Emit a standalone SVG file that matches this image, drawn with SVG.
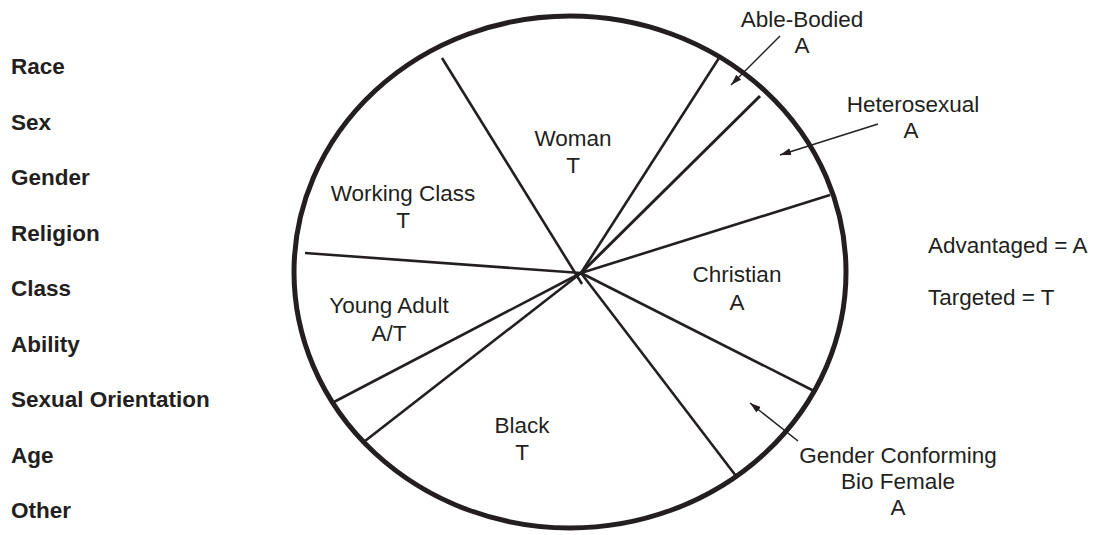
<svg xmlns="http://www.w3.org/2000/svg" width="1099" height="535" viewBox="0 0 1099 535">
<defs>
<style>
.t{font-family:"Liberation Sans",Arial,sans-serif;font-size:22.5px;fill:#231f20;text-anchor:middle}
.l{font-family:"Liberation Sans",Arial,sans-serif;font-size:22.5px;font-weight:bold;fill:#231f20}
.k{font-family:"Liberation Sans",Arial,sans-serif;font-size:22.5px;fill:#231f20}
.div{stroke:#231f20;stroke-width:2.6;fill:none}
.arr{stroke:#231f20;stroke-width:1.5;fill:none;marker-end:url(#ah)}
</style>
<marker id="ah" markerUnits="userSpaceOnUse" markerWidth="12" markerHeight="8" refX="11" refY="4" orient="auto">
<path d="M0,0.5 L11,4 L0,7.5 Z" fill="#231f20"/>
</marker>
</defs>
<rect width="1099" height="535" fill="#fff"/>
<g id="legend-categories">
<text class="l" x="11" y="74">Race</text>
<text class="l" x="11" y="129.5">Sex</text>
<text class="l" x="11" y="185">Gender</text>
<text class="l" x="11" y="240.5">Religion</text>
<text class="l" x="11" y="296">Class</text>
<text class="l" x="11" y="351.5">Ability</text>
<text class="l" x="11" y="407">Sexual Orientation</text>
<text class="l" x="11" y="462.5">Age</text>
<text class="l" x="11" y="518">Other</text>
</g>
<g id="key">
<text class="k" x="928" y="253">Advantaged = A</text>
<text class="k" x="928" y="305">Targeted = T</text>
</g>
<g id="circle">
<ellipse cx="570" cy="272" rx="276" ry="256" fill="none" stroke="#231f20" stroke-width="5"/>
</g>
<g id="connectors">
<line class="div" x1="442" y1="58" x2="582" y2="284"/>
<line class="div" x1="581" y1="273" x2="719" y2="58"/>
<line class="div" x1="581" y1="273" x2="760" y2="96" style="stroke-width:3"/>
<line class="div" x1="581" y1="273" x2="830" y2="195"/>
<line class="div" x1="581" y1="273" x2="816" y2="392"/>
<line class="div" x1="581" y1="273" x2="736" y2="476"/>
<line class="div" x1="581" y1="273" x2="365" y2="441"/>
<line class="div" x1="581" y1="273" x2="332" y2="403"/>
<line class="div" x1="581" y1="273" x2="305" y2="253"/>
<line class="arr" x1="780" y1="36" x2="731" y2="85"/>
<line class="arr" x1="878" y1="124" x2="780" y2="155"/>
<line class="arr" x1="798" y1="441" x2="750" y2="403"/>
</g>
<g id="woman"><text class="t" x="573" y="146">Woman</text><text class="t" x="573" y="173">T</text></g>
<g id="working-class"><text class="t" x="403" y="201">Working Class</text><text class="t" x="403" y="228">T</text></g>
<g id="young-adult"><text class="t" x="389" y="313">Young Adult</text><text class="t" x="389" y="341">A/T</text></g>
<g id="black"><text class="t" x="522" y="433">Black</text><text class="t" x="522" y="460">T</text></g>
<g id="christian"><text class="t" x="737" y="282">Christian</text><text class="t" x="737" y="310">A</text></g>
<g id="able-bodied"><text class="t" x="802" y="27">Able-Bodied</text><text class="t" x="802" y="53">A</text></g>
<g id="heterosexual"><text class="t" x="913" y="112">Heterosexual</text><text class="t" x="911" y="138">A</text></g>
<g id="gender-conforming"><text class="t" x="898" y="463">Gender Conforming</text><text class="t" x="898" y="489">Bio Female</text><text class="t" x="898" y="515">A</text></g>
</svg>
